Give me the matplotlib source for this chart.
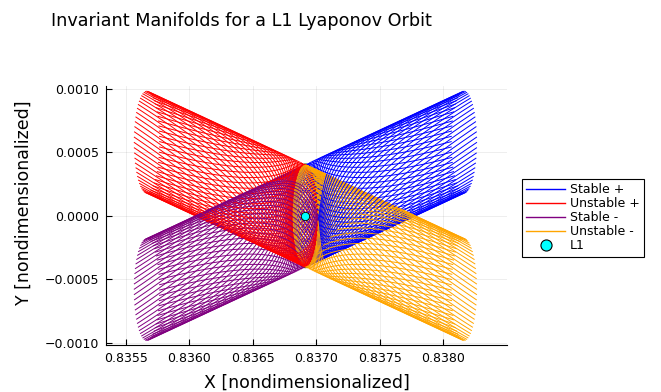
import numpy as np
import matplotlib
matplotlib.use("Agg")
import matplotlib.pyplot as plt
from matplotlib.lines import Line2D

# values
L1_X = 0.836915
orbit_x0 = 0.836915
orbit_semi_axes = [0.0001, 0.0004]       # x, y half widths of the Lyapunov orbit
names = ["Stable +", "Unstable +", "Stable -", "Unstable -"]
colors = ["blue", "red", "purple", "orange"]
end_dx = [0.00125, -0.00125, -0.00125, 0.00125]   # tube shift at the far end
end_dy = [0.00058, 0.00058, -0.00058, -0.00058]
spin = [1, -1, 1, -1]                    # winding sense, stable / unstable
n_traj = 60
twist = 2.4                              # orbit phase swept along one trajectory
bend = 1.5                               # how much of the twist happens near the orbit

xticks = [0.8355, 0.8360, 0.8365, 0.8370, 0.8375, 0.8380]
xticklabels = ["0.8355", "0.8360", "0.8365", "0.8370", "0.8375", "0.8380"]
yticks = [-0.0010, -0.0005, 0.0, 0.0005, 0.0010]
yticklabels = ["\u22120.0010", "\u22120.0005", "0.0000", "0.0005", "0.0010"]

W, H = 661, 392
fig = plt.figure(figsize=(W / 100, H / 100), dpi=100)
ax = fig.add_axes([106 / W, 1 - 345.3 / H, 401 / W, 258.9 / H])

a, b = orbit_semi_axes
th = np.linspace(0, 2 * np.pi, 400)
ax.plot(orbit_x0 + a * np.cos(th), b * np.sin(th), color="green", lw=2.2, zorder=1)

tau = np.linspace(0, twist, 300)
s = np.expm1(bend * tau) / np.expm1(bend * twist)

for k in range(n_traj):
    th0 = 2 * np.pi * k / n_traj
    for m in range(4):
        t = th0 + spin[m] * tau
        x = orbit_x0 + a * np.cos(t) + s * end_dx[m]
        y = b * np.sin(t) + s * end_dy[m]
        ax.plot(x, y, color=colors[m], lw=0.7, zorder=2)

ax.plot([L1_X], [0.0], "o", ms=6, mfc="cyan", mec="black", mew=0.6, zorder=5)

ax.set_xlim(0.835342, 0.838505)
ax.set_ylim(-0.001018, 0.001018)
ax.set_xticks(xticks, xticklabels)
ax.set_yticks(yticks, yticklabels)
ax.tick_params(direction="in", length=4, width=0.8, labelsize=9, pad=5)
for side in ["top", "right"]:
    ax.spines[side].set_visible(False)
ax.grid(True, color="black", alpha=0.08, lw=0.6)
ax.set_axisbelow(True)

handles = [Line2D([], [], color=c, lw=1.0) for c in colors]
handles.append(Line2D([], [], ls="none", marker="o", ms=8, mfc="cyan",
                      mec="black", mew=0.8))
leg = ax.legend(handles, names + ["L1"], loc="upper left",
                bbox_to_anchor=(1.037, 0.642), borderaxespad=0,
                fontsize=9, frameon=True, fancybox=False, edgecolor="black",
                framealpha=1, handlelength=3.1, handletextpad=0.4,
                labelspacing=0.08, borderpad=0.35)
leg.get_frame().set_linewidth(0.8)

fig.text(241 / W, 1 - 26 / H, "Invariant Manifolds for a L1 Lyaponov Orbit",
         ha="center", va="baseline", fontsize=12.7)
fig.text(307 / W, 1 - 388 / H, "X [nondimensionalized]",
         ha="center", va="baseline", fontsize=12.5)
fig.text(24 / W, 1 - 203 / H, "Y [nondimensionalized]",
         ha="center", va="center", rotation=90, fontsize=12.5)

fig.savefig("out.png", dpi=100)
